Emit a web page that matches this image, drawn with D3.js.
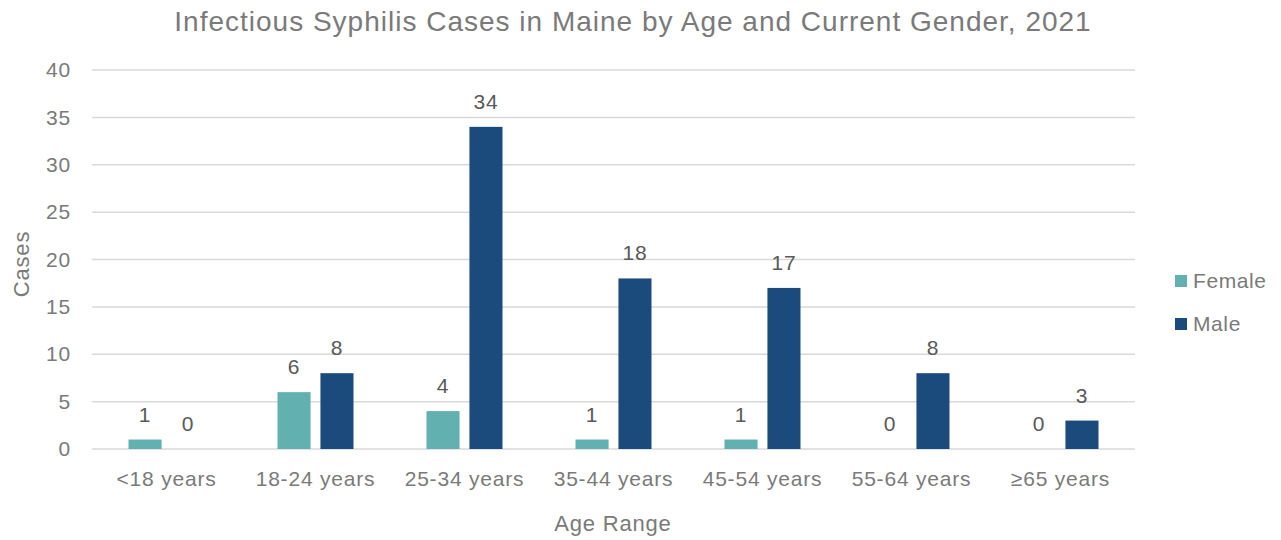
<!DOCTYPE html>
<html><head><meta charset="utf-8">
<script src="https://cdn.jsdelivr.net/npm/d3@7"></script>
<style>body{margin:0;background:#fff;} svg{display:block;font-family:"Liberation Sans","Roboto",sans-serif;}</style>
</head><body>
<svg id="c" width="1281" height="540"></svg>
<script>
const categories = ["<18 years","18-24 years","25-34 years","35-44 years","45-54 years","55-64 years","≥65 years"];
const seriesNames = ["Female","Male"];
const femaleValues = [1,6,4,1,1,0,0];
const maleValues = [0,8,34,18,17,8,3];
const yTicks = [0,5,10,15,20,25,30,35,40];
const colors = ["#63B0B1","#1B4A7C"];

const svg = d3.select("#c");
const m = {l:92, r:146, t:70, b:91};
const W = 1281, H = 540;
const x = d3.scaleBand().domain(categories).range([m.l, W-m.r]).paddingInner(0.49).paddingOuter(0.245);
const xs = d3.scaleBand().domain(seriesNames).range([0, x.bandwidth()]).paddingInner(0.23);
const y = d3.scaleLinear().domain([0,40]).range([H-m.b, m.t]);

// gridlines
svg.append("g").selectAll("line").data(yTicks).join("line")
  .attr("x1", m.l).attr("x2", W-m.r)
  .attr("y1", d=>y(d)).attr("y2", d=>y(d))
  .attr("stroke","#d9d9d9").attr("stroke-width",1.5);

// y axis
const ya = svg.append("g").attr("transform",`translate(${m.l},0)`)
  .call(d3.axisLeft(y).tickValues(yTicks).tickSize(0).tickPadding(21));
ya.select(".domain").remove();
ya.selectAll("text").attr("font-size",21).attr("letter-spacing",0.8).attr("fill","#7a7a7a").attr("font-family","Liberation Sans, sans-serif");

// x axis
const xa = svg.append("g").attr("transform",`translate(0,${y(0)})`)
  .call(d3.axisBottom(x).tickSize(0).tickPadding(22));
xa.select(".domain").remove();
xa.selectAll("text").attr("font-size",21).attr("letter-spacing",0.8).attr("fill","#7a7a7a").attr("font-family","Liberation Sans, sans-serif");

const data = categories.map((c,i)=>({c, vals:[femaleValues[i], maleValues[i]]}));
const g = svg.append("g").selectAll("g").data(data).join("g")
  .attr("transform", d=>`translate(${x(d.c)},0)`);
g.selectAll("rect").data(d=>d.vals.map((v,j)=>({v, s:seriesNames[j], j}))).join("rect")
  .attr("x", d=>xs(d.s)).attr("width", xs.bandwidth())
  .attr("y", d=>y(d.v)).attr("height", d=>y(0)-y(d.v))
  .attr("fill", d=>colors[d.j]);
g.selectAll("text").data(d=>d.vals.map((v,j)=>({v, s:seriesNames[j], j}))).join("text")
  .attr("x", d=>xs(d.s)+xs.bandwidth()/2).attr("y", d=>y(d.v)-18)
  .attr("text-anchor","middle").attr("font-size",21).attr("letter-spacing",0.8).attr("fill","#595959")
  .text(d=>d.v);

// title
svg.append("text").attr("x", 633).attr("y", 31).attr("text-anchor","middle")
  .attr("font-size",28).attr("letter-spacing",1).attr("fill","#7a7a7a").text("Infectious Syphilis Cases in Maine by Age and Current Gender, 2021");
// axis titles
svg.append("text").attr("transform","translate(29,264) rotate(-90)").attr("text-anchor","middle")
  .attr("font-size",22).attr("letter-spacing",0.8).attr("fill","#7a7a7a").text("Cases");
svg.append("text").attr("x", 613).attr("y", 531).attr("text-anchor","middle")
  .attr("font-size",22).attr("letter-spacing",0.8).attr("fill","#7a7a7a").text("Age Range");

// legend
const lg = svg.append("g").selectAll("g").data(seriesNames).join("g")
  .attr("transform",(d,i)=>`translate(1175,${281+i*43})`);
lg.append("rect").attr("x",0).attr("y",-6).attr("width",12).attr("height",12).attr("fill",(d,i)=>colors[i]);
lg.append("text").attr("x",18).attr("y",7).attr("font-size",21).attr("letter-spacing",0.6).attr("fill","#7a7a7a").text(d=>d);
</script>
</body></html>
